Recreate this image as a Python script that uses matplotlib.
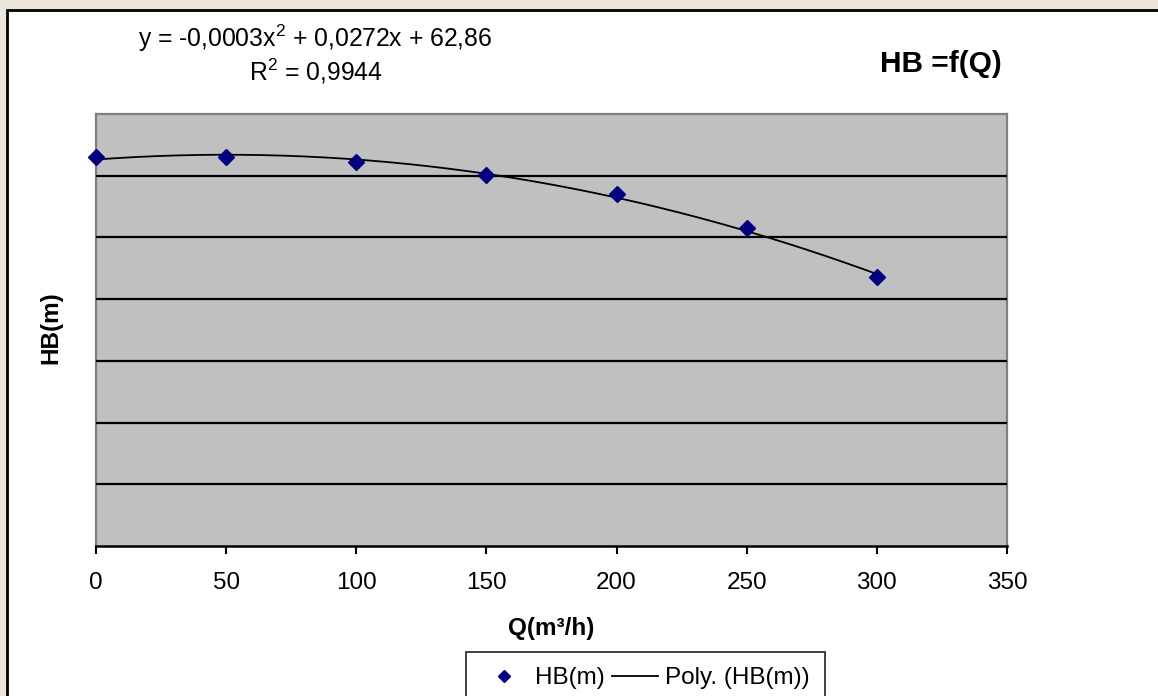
import numpy as np
import matplotlib
matplotlib.use("Agg")
import matplotlib.pyplot as plt
from matplotlib.patches import Rectangle
from matplotlib.lines import Line2D

plt.rcParams['font.family'] = ['Liberation Sans', 'DejaVu Sans']
plt.rcParams['mathtext.default'] = 'regular'

# data
Q = [0, 50, 100, 150, 200, 250, 300]          # m3/h
HB = [63.0, 63.1, 62.2, 60.1, 57.0, 51.5, 43.6]  # m
xticks = [0, 50, 100, 150, 200, 250, 300, 350]
eq_text = "y = -0,0003x$^2$ + 0,0272x + 62,86"
r2_text = "R$^2$ = 0,9944"

W, H = 1158, 696
fs = 17.5
fig = plt.figure(figsize=(W / 100, H / 100), dpi=100)
fig.patch.set_facecolor('#e9e5da')

# white chart area with black frame
fig.patches.append(Rectangle((7 / W, -0.05), 1.1, 1 - 10 / H + 0.05,
                             transform=fig.transFigure, facecolor='white',
                             edgecolor='black', linewidth=2, zorder=-5))

ax = fig.add_axes([96 / W, 1 - 546 / H, 911 / W, 432 / H])
ax.set_zorder(2)
ax.set_facecolor('#c0c0c0')

# polynomial trendline (order 2)
coef = np.polyfit(Q, HB, 2)
xs = np.linspace(min(Q), max(Q), 301)
ax.plot(xs, np.polyval(coef, xs), color='black', lw=1.3, zorder=3)
ax.plot(Q, HB, linestyle='none', marker='D', ms=8, color='#000080',
        mec='#000080', zorder=4, clip_on=False)

ax.set_xlim(0, 350)
ax.set_ylim(0, 70)
ax.set_xticks(xticks)
ax.set_yticks(range(10, 70, 10))
ax.yaxis.grid(True, color='black', lw=1.6)
ax.set_axisbelow(False)
ax.tick_params(axis='y', left=False, labelleft=False)
ax.tick_params(axis='x', direction='out', length=5.5, width=1.5,
               labelsize=fs, pad=13.5, color='black')
for s in ['left', 'top', 'right']:
    ax.spines[s].set_color('#808080')
    ax.spines[s].set_linewidth(1.6)
ax.spines['bottom'].set_color('black')
ax.spines['bottom'].set_linewidth(1.8)

# titles and labels
fig.text(551 / W, 1 - 628 / H, "Q(m³/h)", ha='center', va='center',
         fontsize=fs, fontweight='bold')
fig.text(51 / W, 1 - 328 / H, "HB(m)", ha='center', va='center',
         rotation=90, fontsize=fs, fontweight='bold')
fig.text(941 / W, 1 - 72.5 / H, "HB =f(Q)", ha='center', va='baseline',
         fontsize=21.5, fontweight='bold')
fig.text(315 / W, 1 - 46.5 / H, eq_text, ha='center', va='baseline', fontsize=17.8)
fig.text(316 / W, 1 - 80.5 / H, r2_text, ha='center', va='baseline', fontsize=17.8)

# legend
handles = [Line2D([], [], linestyle='none', marker='D', ms=6, color='#000080'),
           Line2D([], [], color='black', lw=1.3)]
leg = fig.legend(handles, ["HB(m)", "Poly. (HB(m))"], ncol=2,
                 loc='upper center', bbox_to_anchor=(645.5 / W, 1 - 652 / H),
                 fontsize=fs, frameon=True, fancybox=False, borderpad=0.62,
                 handlelength=1.9, handletextpad=0.3, columnspacing=0.3,
                 borderaxespad=0)
leg.get_frame().set_edgecolor('black')
leg.get_frame().set_linewidth(1.3)

fig.savefig("out.png", dpi=100, facecolor=fig.get_facecolor())
